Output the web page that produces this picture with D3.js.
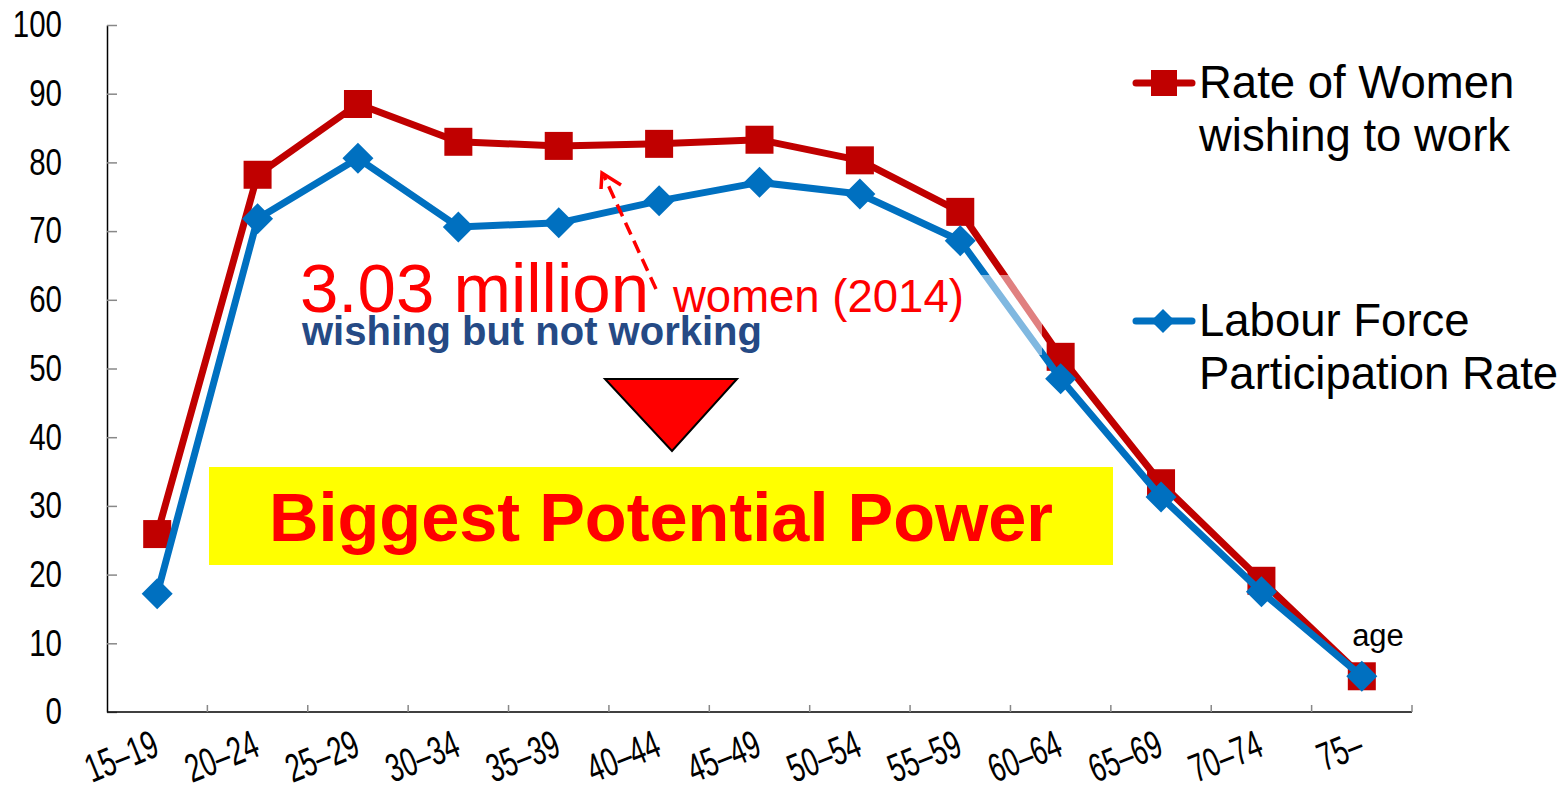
<!DOCTYPE html>
<html>
<head>
<meta charset="utf-8">
<script src="https://cdn.jsdelivr.net/npm/d3@7"></script>
<style>
  html, body { margin: 0; padding: 0; background: #fff; }
  svg { display: block; }
  .tick-label { font-family: "Liberation Sans Narrow", "Arial Narrow", "Liberation Sans", Arial, sans-serif; }
  .sans { font-family: "Liberation Sans", Arial, Helvetica, sans-serif; }
</style>
</head>
<body>
<svg id="chart" width="1567" height="785"></svg>
<script>
// age groups
const ages = ["15\u201319", "20\u201324", "25\u201329", "30\u201334", "35\u201339", "40\u201344", "45\u201349",
              "50\u201354", "55\u201359", "60\u201364", "65\u201369", "70\u201374", "75\u2013"];
// rate of women wishing to work (%)
const wishing = [25.9, 78.2, 88.5, 83.0, 82.4, 82.7, 83.3, 80.3, 72.8, 51.7, 33.3, 19.1, 5.2];
// labour force participation rate (%)
const participation = [17.2, 71.8, 80.6, 70.6, 71.2, 74.4, 77.1, 75.4, 68.6, 48.5, 31.3, 17.5, 5.2];
const yTicks = [0, 10, 20, 30, 40, 50, 60, 70, 80, 90, 100];

const RED = "#C00000", BLUE = "#0070C0";

const svg = d3.select("#chart");

const x = d3.scaleBand().domain(ages).range([107, 1412]).padding(0);
const y = d3.scaleLinear().domain([0, 100]).range([712, 25]);
const cx = d => x(d) + x.bandwidth() / 2;

// y axis - ticks point inward
const yAxis = svg.append("g")
    .attr("transform", "translate(107,0)")
    .call(d3.axisLeft(y).tickValues(yTicks).tickSizeInner(-10).tickSizeOuter(0).tickPadding(45));
yAxis.select(".domain").attr("stroke", "#000").attr("stroke-width", 1.5);
yAxis.selectAll(".tick line").attr("stroke", "#888").attr("stroke-width", 1.5);
yAxis.selectAll(".tick text")
    .attr("class", "tick-label")
    .attr("font-size", 37)
    .attr("fill", "#000")
    .attr("lengthAdjust", "spacingAndGlyphs")
    .attr("textLength", d => String(d).length * 16.4);

// x axis - ticks at band boundaries
const xAxis = svg.append("g").attr("transform", "translate(0,712)");
xAxis.append("line")
    .attr("x1", x.range()[0]).attr("x2", x.range()[1])
    .attr("stroke", "#000").attr("stroke-width", 1.5);
const bounds = ages.slice(1).map(a => x(a)).concat([x.range()[1]]);
xAxis.selectAll("line.tk").data(bounds).join("line")
    .attr("class", "tk")
    .attr("x1", d => d).attr("x2", d => d)
    .attr("y1", 0).attr("y2", -7)
    .attr("stroke", "#888").attr("stroke-width", 1.5);
xAxis.selectAll("text").data(ages).join("text")
    .attr("class", "tick-label")
    .attr("font-size", 40)
    .attr("text-anchor", "end")
    .attr("lengthAdjust", "spacingAndGlyphs")
    .attr("textLength", d => d.length === 5 ? 75 : 45)
    .attr("transform", d => `translate(${cx(d) + 4},${43}) rotate(-22)`)
    .text(d => d);

// series lines
const line = d3.line().x((d, i) => cx(ages[i])).y(d => y(d));

svg.append("path").datum(wishing)
    .attr("d", line).attr("fill", "none")
    .attr("stroke", RED).attr("stroke-width", 7).attr("stroke-linejoin", "round");
svg.selectAll("rect.sq").data(wishing).join("rect")
    .attr("class", "sq")
    .attr("x", (d, i) => cx(ages[i]) - 14).attr("y", d => y(d) - 14)
    .attr("width", 28).attr("height", 28)
    .attr("fill", RED);

svg.append("path").datum(participation)
    .attr("d", line).attr("fill", "none")
    .attr("stroke", BLUE).attr("stroke-width", 7).attr("stroke-linejoin", "round");
const diamond = d3.symbol().type(d3.symbolSquare).size(15.5 * 15.5 * 2);
svg.selectAll("path.dm").data(participation).join("path")
    .attr("class", "dm")
    .attr("d", diamond)
    .attr("transform", (d, i) => `translate(${cx(ages[i])},${y(d)}) rotate(45)`)
    .attr("fill", BLUE);

// translucent text box that fades the lines
svg.append("rect")
    .attr("x", 976).attr("y", 275).attr("width", 66).attr("height", 80)
    .attr("fill", "#fff").attr("opacity", 0.5);

// annotations
svg.append("text").attr("class", "sans")
    .attr("x", 300).attr("y", 312).attr("font-size", 69).attr("fill", "#FF0000")
    .text("3.03 million");
svg.append("text").attr("class", "sans")
    .attr("x", 673).attr("y", 312).attr("font-size", 45.5).attr("fill", "#FF0000")
    .text("women (2014)");
svg.append("text").attr("class", "sans")
    .attr("x", 302).attr("y", 345).attr("font-size", 40).attr("font-weight", "bold")
    .attr("fill", "#254A85")
    .text("wishing but not working");

// dashed arrow
svg.append("line")
    .attr("x1", 656).attr("y1", 289).attr("x2", 604).attr("y2", 176)
    .attr("stroke", "#FF0000").attr("stroke-width", 3.5).attr("stroke-dasharray", "13,7");
svg.append("path")
    .attr("d", "M601,189 L602,173 L621,185")
    .attr("fill", "none").attr("stroke", "#FF0000").attr("stroke-width", 3.5);

// triangle
svg.append("path")
    .attr("d", "M605,379 L737,379 L672,451 Z")
    .attr("fill", "#FF0000").attr("stroke", "#000").attr("stroke-width", 2);

// yellow box
svg.append("rect")
    .attr("x", 209).attr("y", 467).attr("width", 904).attr("height", 98)
    .attr("fill", "#FFFF00");
svg.append("text").attr("class", "sans")
    .attr("x", 661).attr("y", 541).attr("text-anchor", "middle")
    .attr("font-size", 68.5).attr("font-weight", "bold").attr("fill", "#FF0000")
    .text("Biggest Potential Power");

svg.append("text").attr("class", "sans")
    .attr("x", 1378).attr("y", 646).attr("text-anchor", "middle")
    .attr("font-size", 31).attr("fill", "#000")
    .text("age");

// legend
const legend = [
    { name: ["Rate of Women", "wishing to work"], color: RED, shape: "square", y: 83 },
    { name: ["Labour Force", "Participation Rate"], color: BLUE, shape: "diamond", y: 321 }
];
legend.forEach(l => {
    const g = svg.append("g");
    g.append("line")
        .attr("x1", 1136).attr("x2", 1192).attr("y1", l.y).attr("y2", l.y)
        .attr("stroke", l.color).attr("stroke-width", 7).attr("stroke-linecap", "round");
    if (l.shape === "square") {
        g.append("rect").attr("x", 1151).attr("y", l.y - 13).attr("width", 26).attr("height", 26)
            .attr("fill", l.color);
    } else {
        g.append("path")
            .attr("d", d3.symbol().type(d3.symbolSquare).size(12 * 12 * 2))
            .attr("transform", `translate(1163,${l.y}) rotate(45)`)
            .attr("fill", l.color);
    }
    l.name.forEach((t, i) => {
        g.append("text").attr("class", "sans")
            .attr("x", 1199).attr("y", l.y + 15 + i * 53)
            .attr("font-size", 45.5).attr("fill", "#000")
            .text(t);
    });
});
</script>
</body>
</html>
